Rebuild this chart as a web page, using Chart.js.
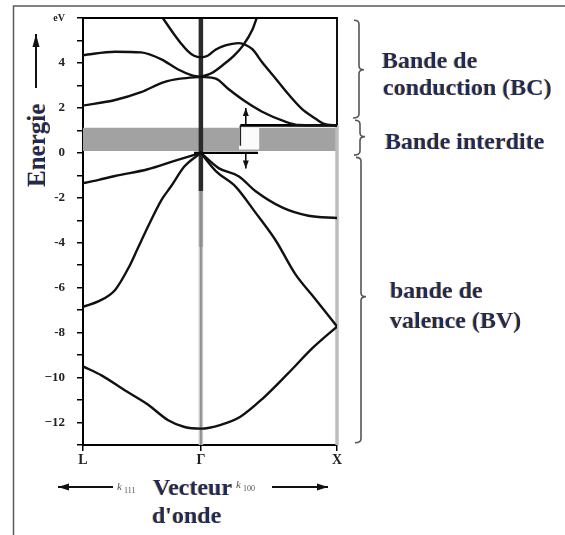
<!DOCTYPE html>
<html>
<head>
<meta charset="utf-8">
<script src="https://cdn.jsdelivr.net/npm/chart.js@4.4.1/dist/chart.umd.min.js"></script>
<style>
  html, body { margin: 0; padding: 0; background: #fff; }
  #wrap { width: 565px; height: 535px; }
</style>
</head>
<body>
<div id="wrap"><canvas id="bandes" width="565" height="535"></canvas></div>
<script>
// points de symetrie : L a gauche, Gamma au centre, X a droite
const kTicks = [-0.866, 0, 1];
const kLabels = ['L', 'Γ', 'X'];

// bandes de valence (k, energie en eV)
const vb1K = [-0.866, -0.73, -0.55, -0.39, -0.24, -0.12, 0, 0.146, 0.29, 0.46, 0.635, 0.825, 1];
const vb1E = [-9.5, -9.9, -10.6, -11.2, -11.9, -12.2, -12.27, -12.1, -11.74, -10.9, -9.85, -8.66, -7.73];
const vb2K = [-0.866, -0.75, -0.63, -0.53, -0.46, -0.39, -0.29, -0.22, -0.12, 0];
const vb2E = [-6.85, -6.6, -6.1, -5.1, -4.2, -3.3, -2.1, -1.5, -0.6, 0];
const vb3K = [-0.866, -0.75, -0.63, -0.39, -0.2, 0];
const vb3E = [-1.35, -1.2, -1.03, -0.73, -0.37, 0];
const vb4K = [0, 0.13, 0.28, 0.4, 0.6, 0.79, 1];
const vb4E = [0, -0.68, -1.05, -1.7, -2.44, -2.8, -2.9];
const vb5K = [0, 0.11, 0.255, 0.4, 0.55, 0.69, 0.84, 1];
const vb5E = [0, -0.81, -1.5, -2.65, -3.9, -5.36, -6.5, -7.73];

// bandes de conduction
const cb1K = [-0.866, -0.63, -0.44, -0.27, -0.15, 0];
const cb1E = [2.1, 2.35, 2.7, 3.15, 3.3, 3.38];
const cb2K = [-0.866, -0.63, -0.44, -0.29, -0.17, -0.07, 0];
const cb2E = [4.35, 4.5, 4.47, 4.16, 3.72, 3.46, 3.38];
const cb3K = [-0.28, -0.2, -0.146, -0.1, -0.05, 0, 0.05, 0.11, 0.18, 0.23, 0.28, 0.33, 0.38, 0.45, 0.55, 0.64, 0.74, 0.84, 0.9, 1];
const cb3E = [6.0, 5.3, 4.87, 4.55, 4.32, 4.25, 4.32, 4.6, 4.78, 4.85, 4.88, 4.8, 4.6, 4.03, 3.3, 2.63, 1.97, 1.53, 1.3, 1.22];
const cb4K = [0, 0.11, 0.2, 0.33, 0.45, 0.62, 0.72, 1];
const cb4E = [3.38, 3.3, 2.85, 2.27, 1.83, 1.39, 1.24, 1.22];
const cb5K = [0, 0.08, 0.16, 0.24, 0.31, 0.38, 0.41];
const cb5E = [3.38, 3.55, 3.9, 4.3, 4.78, 5.5, 6.0];

// bande interdite
const gapBottom = 0.08;
const gapTop = 1.12;
const cbEdge = 1.22;   // bas de la BC (trait noir a droite)
const vbEdge = 0;      // haut de la BV
const eMin = -13, eMax = 6;

function pts(ks, es) {
  return ks.map((k, i) => ({ x: k, y: es[i] }));
}

function band(ks, es) {
  return {
    data: pts(ks, es),
    borderColor: '#111',
    borderWidth: 2.4,
    pointRadius: 0,
    cubicInterpolationMode: 'monotone',
    borderCapStyle: 'round',
    borderJoinStyle: 'round',
    fill: false,
    order: 0
  };
}

function seg(ks, es, color, width, order) {
  return {
    data: pts(ks, es),
    borderColor: color,
    borderWidth: width,
    pointRadius: 0,
    fill: false,
    tension: 0,
    clip: false,
    order: order
  };
}

const datasets = [
  band(vb1K, vb1E), band(vb2K, vb2E), band(vb3K, vb3E), band(vb4K, vb4E), band(vb5K, vb5E),
  band(cb1K, cb1E), band(cb2K, cb2E), band(cb3K, cb3E), band(cb4K, cb4E), band(cb5K, cb5E),
  // bords de la bande interdite
  seg([-0.05, 0.42], [vbEdge, vbEdge], '#000', 2.4, 1),
  seg([0.29, 1], [cbEdge, cbEdge], '#000', 2.6, 1),
  seg([0.29, 0.29], [cbEdge, 0.32], '#222', 1.5, 1),
  // trait vertical en Gamma
  seg([0, 0], [eMax, -1.7], '#2a2a2a', 4.5, 5),
  seg([0, 0], [-1.7, -4.2], '#a6a6a6', 4.5, 5),
  seg([0, 0], [-4.2, eMin], '#c9c9c9', 4.5, 5),
  seg([0, 0], [-1.7, eMin], '#8c8c8c', 1, 4),
  // bord droit en X
  seg([1, 1], [eMax, cbEdge], '#111', 2, 5),
  seg([1, 1], [cbEdge, eMin], '#bdbdbd', 3.5, 5),
  // fenetre blanche autour de Eg
  {
    data: pts([0.28, 0.43], [gapTop, gapTop]),
    borderWidth: 0, pointRadius: 0,
    backgroundColor: '#fbfbfb',
    fill: { value: 0.15 },
    order: 8
  },
  // zone grisee de la bande interdite
  {
    data: pts([kTicks[0], kTicks[2]], [gapTop, gapTop]),
    borderWidth: 0, pointRadius: 0,
    backgroundColor: '#a2a2a2',
    fill: { value: gapBottom },
    order: 10
  }
];

const FONT = '"Liberation Serif", "DejaVu Serif", serif';
const NAVY = '#1d2b57';

function arrowHead(ctx, x1, y1, x2, y2, len, half) {
  const a = Math.atan2(y2 - y1, x2 - x1);
  ctx.beginPath();
  ctx.moveTo(x2, y2);
  ctx.lineTo(x2 - len * Math.cos(a) + half * Math.sin(a), y2 - len * Math.sin(a) - half * Math.cos(a));
  ctx.lineTo(x2 - len * Math.cos(a) - half * Math.sin(a), y2 - len * Math.sin(a) + half * Math.cos(a));
  ctx.closePath();
  ctx.fill();
}

function arrow(ctx, x1, y1, x2, y2, len, half) {
  ctx.beginPath();
  ctx.moveTo(x1, y1);
  ctx.lineTo(x2, y2);
  ctx.stroke();
  arrowHead(ctx, x1, y1, x2, y2, len, half);
}

function brace(ctx, x, yTop, yBot, yTip) {
  const r = 4;
  ctx.beginPath();
  ctx.moveTo(x - 5, yTop);
  ctx.quadraticCurveTo(x, yTop, x, yTop + r);
  ctx.lineTo(x, yTip - r);
  ctx.quadraticCurveTo(x, yTip, x + 5, yTip);
  ctx.quadraticCurveTo(x, yTip, x, yTip + r);
  ctx.lineTo(x, yBot - r);
  ctx.quadraticCurveTo(x, yBot, x - 6, yBot);
  ctx.stroke();
}

function label(ctx, txt, x, yb, size) {
  ctx.font = 'bold ' + size + 'px ' + FONT;
  ctx.fillStyle = NAVY;
  ctx.shadowColor = 'rgba(215,140,40,0.55)';
  ctx.shadowOffsetX = -1;
  ctx.shadowOffsetY = 0;
  ctx.shadowBlur = 0;
  ctx.fillText(txt, x, yb);
  ctx.shadowColor = 'transparent';
}

const decor = {
  id: 'decor',
  afterDatasetsDraw(chart) {
    const { ctx, chartArea: a, scales: { x, y } } = chart;
    ctx.save();
    // bord haut du cadre
    ctx.strokeStyle = '#000';
    ctx.lineWidth = 2;
    ctx.beginPath();
    ctx.moveTo(a.left - 1, a.top);
    ctx.lineTo(a.right + 1, a.top);
    ctx.stroke();
    // fleches de la bande interdite
    const xa = x.getPixelForValue(0.33);
    ctx.fillStyle = '#111';
    ctx.lineWidth = 1.5;
    arrow(ctx, xa, y.getPixelForValue(cbEdge), xa, y.getPixelForValue(2.0), 8, 3);
    arrow(ctx, xa, y.getPixelForValue(vbEdge), xa, y.getPixelForValue(-0.7), 8, 3);
    ctx.restore();
  },
  afterDraw(chart) {
    const { ctx, scales: { y } } = chart;
    ctx.save();
    // cadre exterieur
    ctx.strokeStyle = '#5a5a5a';
    ctx.lineWidth = 1.5;
    ctx.beginPath();
    ctx.moveTo(13.5, 535);
    ctx.lineTo(13.5, 6);
    ctx.lineTo(565, 6);
    ctx.stroke();

    // titre vertical "Energie" et sa fleche
    ctx.strokeStyle = '#111';
    ctx.fillStyle = '#111';
    ctx.lineWidth = 2;
    arrow(ctx, 36, 88, 36, 34, 13, 3.5);
    ctx.save();
    ctx.translate(45, 187);
    ctx.rotate(-Math.PI / 2);
    ctx.textAlign = 'left';
    ctx.textBaseline = 'alphabetic';
    label(ctx, 'Energie', 0, 0, 25);
    ctx.restore();

    // axe des k sous le graphe
    ctx.lineWidth = 2;
    ctx.strokeStyle = '#111';
    ctx.fillStyle = '#111';
    arrow(ctx, 113, 487, 58, 487, 11, 3.5);
    arrow(ctx, 272, 487, 328, 487, 11, 3.5);
    ctx.fillStyle = '#555';
    ctx.font = 'italic 11px ' + FONT;
    ctx.fillText('k', 117, 490);
    ctx.font = '8px ' + FONT;
    ctx.fillText('111', 124, 493);
    ctx.font = 'italic 11px ' + FONT;
    ctx.fillText('k', 236, 488);
    ctx.font = '8px ' + FONT;
    ctx.fillText('100', 243, 491);
    ctx.textAlign = 'left';
    label(ctx, 'Vecteur', 153, 495, 24);
    label(ctx, "d'onde", 152, 523, 24);

    // accolades a droite
    ctx.strokeStyle = '#555';
    ctx.lineWidth = 1.6;
    brace(ctx, 359, y.getPixelForValue(5.9), y.getPixelForValue(1.55), y.getPixelForValue(3.7));
    brace(ctx, 360, y.getPixelForValue(1.45), y.getPixelForValue(-0.1), y.getPixelForValue(0.72));
    brace(ctx, 361, y.getPixelForValue(-0.2), y.getPixelForValue(-12.9), y.getPixelForValue(-6.4));

    label(ctx, 'Bande de', 382, 68, 24);
    label(ctx, 'conduction (BC)', 383, 95, 24);
    label(ctx, 'Bande interdite', 385, 149, 24);
    label(ctx, 'bande de', 390, 298, 24);
    label(ctx, 'valence (BV)', 390, 328, 24);
    ctx.restore();
  }
};

new Chart(document.getElementById('bandes'), {
  type: 'line',
  data: { datasets: datasets },
  options: {
    responsive: false,
    animation: false,
    devicePixelRatio: 1,
    layout: { padding: { left: 13, right: 228, top: 16, bottom: 65 } },
    plugins: { legend: { display: false }, tooltip: { enabled: false } },
    scales: {
      x: {
        type: 'linear',
        min: kTicks[0],
        max: kTicks[2],
        afterBuildTicks: (s) => { s.ticks = kTicks.map(v => ({ value: v })); },
        afterFit: (s) => { s.height = 25; },
        border: { display: true, color: '#000', width: 2 },
        grid: { drawOnChartArea: false, drawTicks: true, tickLength: 6, color: '#000', lineWidth: 1.5 },
        ticks: {
          autoSkip: false,
          maxRotation: 0,
          padding: 1,
          color: '#222',
          font: { family: FONT, size: 14, weight: 'bold' },
          callback: (v, i) => kLabels[i]
        }
      },
      y: {
        min: eMin,
        max: eMax,
        afterFit: (s) => { s.width = 70; },
        border: { display: true, color: '#000', width: 2 },
        grid: { drawOnChartArea: false, drawTicks: true, tickLength: 6, color: '#000', lineWidth: 1.5 },
        ticks: {
          stepSize: 1,
          autoSkip: false,
          padding: 12,
          color: '#222',
          font: (c) => (c.tick && c.tick.value === eMax)
            ? { family: FONT, size: 10, weight: 'bold' }
            : { family: FONT, size: 13, weight: 'bold' },
          callback: (v) => {
            if (v === eMax) return 'eV';
            if (v % 2 !== 0) return '';
            if (v <= -10) return '−' + Math.abs(v);
            return String(v);
          }
        }
      }
    }
  },
  plugins: [decor]
});
</script>
</body>
</html>
